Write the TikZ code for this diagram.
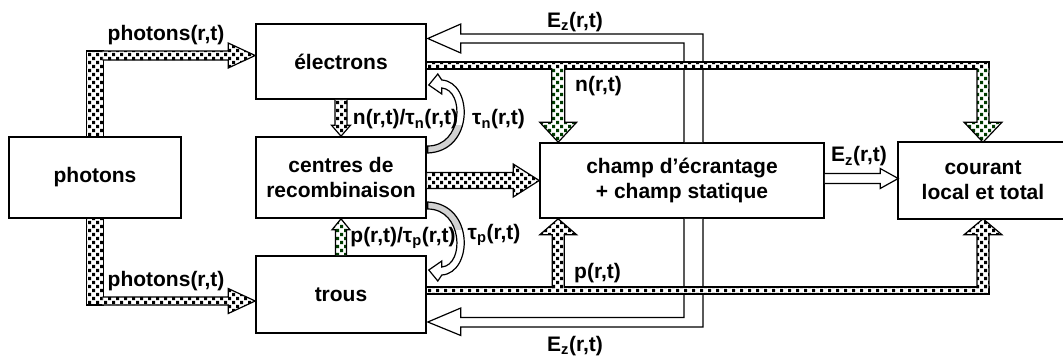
\documentclass[tikz,border=0pt]{standalone}
\usepackage{fontspec}
\setmainfont{Liberation Sans}
\usetikzlibrary{calc,patterns}

\pgfdeclarepatternformonly{dotgrid}{\pgfqpoint{-1pt}{-1pt}}{\pgfqpoint{9pt}{9pt}}{\pgfqpoint{8pt}{8pt}}{%
  \pgfpathrectangle{\pgfqpoint{0pt}{0pt}}{\pgfqpoint{3.2pt}{3.2pt}}%
  \pgfpathrectangle{\pgfqpoint{4pt}{4pt}}{\pgfqpoint{3.2pt}{3.2pt}}%
  \pgfusepath{fill}}

\definecolor{dotgreen}{RGB}{0,60,0}

\tikzset{
  box/.style={draw, line width=1.6pt, align=center, inner sep=0pt},
  lbl/.style={inner sep=0pt},
  dotfill/.style={pattern=dotgrid, pattern color=black},
  greenfill/.style={pattern=dotgrid, pattern color=dotgreen},
  hollow/.style={},
  band/.style={preaction={fill=white}, dotfill},
  arrowline/.style={line width=1.2pt, line join=miter},
  tauloop/.pic={
    \def\looppath{(1,-24.5) .. controls (48,-26.5) and (46,-95.5) .. (15,-97.5) -- (11,-103.5) -- (2,-92.5) -- (15,-83.5) -- (15,-89.5) .. controls (38,-87.5) and (36,-31.5) .. (1,-31.5) -- cycle}
    \fill[white] \looppath;
    \begin{scope}
      \clip (0,-52) rectangle (60,-20);
      \fill[gray!35] \looppath;
    \end{scope}
    \draw[arrowline] \looppath;
  }
}

% block arrow: #2 from, #3 to, #4 shaft half width, #5 head half width, #6 head length
\newcommand{\blockarrow}[6][dotfill]{%
  \path[preaction={fill=white}, #1] ($(#2)!#4pt!90:(#3)$) -- ($(#3)!#6pt!(#2)!#4pt!90:(#3)$)
    -- ($(#3)!#6pt!(#2)!#5pt!90:(#3)$) -- (#3) -- ($(#3)!#6pt!(#2)!#5pt!-90:(#3)$)
    -- ($(#3)!#6pt!(#2)!#4pt!-90:(#3)$) -- ($(#2)!#4pt!-90:(#3)$) -- cycle;
  \draw[arrowline] ($(#2)!#4pt!90:(#3)$) -- ($(#3)!#6pt!(#2)!#4pt!90:(#3)$)
    -- ($(#3)!#6pt!(#2)!#5pt!90:(#3)$) -- (#3) -- ($(#3)!#6pt!(#2)!#5pt!-90:(#3)$)
    -- ($(#3)!#6pt!(#2)!#4pt!-90:(#3)$) -- ($(#2)!#4pt!-90:(#3)$);}

\begin{document}
\begin{tikzpicture}[x=1pt, y=-1pt, every node/.style={font=\bfseries\fontsize{21}{25}\selectfont}]
\useasboundingbox (0,0) rectangle (1063,360);

% boxes
\node[box, minimum width=172pt, minimum height=81pt] (ph) at (95,177.5) {photons};
\node[box, minimum width=170pt, minimum height=75pt] (el) at (341,61.5) {électrons};
\node[box, minimum width=170pt, minimum height=81pt] (rc) at (341,177.5) {centres de\\recombinaison};
\node[box, minimum width=170pt, minimum height=77pt] (tr) at (341,294.5) {trous};
\node[box, minimum width=284pt, minimum height=75pt] (ch) at (682,180.5) {champ d’écrantage\\+ champ statique};
\node[box, draw=none, minimum width=168pt, minimum height=75pt] (co) at (983,180.5) {courant\\local et total};
\draw[line width=1.6pt] ($(co.north east)+(10,0)$) -- (co.north west) -- (co.south west) -- ($(co.south east)+(10,0)$);

% E_z feedback
\coordinate (ezt) at ($(el.east)+(1,-23)$);
\coordinate (ezb) at ($(tr.east)+(1,27.5)$);
\draw[arrowline, fill=white] ($(ch.north)+(2,0)$) |- ($(ezt)+(33,4.5)$) -- ++(0,10) -- (ezt) -- ++(33,-14.5) -- ++(0,10) -| ($(ch.north)+(21,0)$);
\draw[arrowline, fill=white] ($(ch.south)+(2,0)$) |- ($(ezb)+(33,-4.5)$) -- ++(0,-9.5) -- (ezb) -- ++(33,13.5) -- ++(0,-8.5) -| ($(ch.south)+(21,0)$);
\coordinate (ezs) at ($(ch.east)+(0,-2)$);
\coordinate (eze) at ($(co.west)+(0,-2)$);
\blockarrow[hollow]{ezs}{eze}{5}{10}{18}

% photons
\coordinate (pu) at ($(ph.north |- el.west)+(0,-6)$);
\coordinate (pu2) at ($(pu)+(7.5,0)$);
\coordinate (pue) at ($(el.west)+(0,-6)$);
\draw[arrowline, band] ($(ph.north)+(-8.5,0)$) rectangle ($(pu)+(8.5,-4.5)$);
\blockarrow{pu2}{pue}{4.5}{12.5}{27}
\coordinate (pl) at ($(ph.south |- tr.west)+(0,6.5)$);
\coordinate (pl2) at ($(pl)+(7.5,0)$);
\coordinate (ple) at ($(tr.west)+(0,6.5)$);
\draw[arrowline, band] ($(ph.south)+(-8.5,0)$) rectangle ($(pl)+(8.5,4)$);
\blockarrow{pl2}{ple}{4}{12.5}{27}

% recombination
\blockarrow{el.south}{rc.north}{6}{9.5}{11}
\blockarrow[greenfill]{tr.north}{rc.south}{5.5}{9}{11}
\coordinate (rcs) at (rc.east |- ch.west);
\blockarrow{rcs}{ch.west}{8}{16.5}{26}

% electrons band
\coordinate (eb) at ($(el.east)+(0,4)$);
\draw[arrowline, band] ($(eb)+(0,-3.5)$) rectangle ($(co.north |- eb)+(6,3.5)$);
\coordinate (nch) at ($(ch.north west)+(19,0)$);
\coordinate (nst) at ($(nch |- eb)+(0,2.5)$);
\blockarrow[greenfill]{nst}{nch}{6.5}{18.5}{20}
\coordinate (cst) at ($(co.north |- eb)+(0,2.5)$);
\blockarrow[greenfill]{cst}{co.north}{6}{19}{20}

% holes band
\coordinate (tb) at ($(tr.east)+(0,-4)$);
\draw[arrowline, band] ($(tb)+(0,-3.5)$) rectangle ($(co.south |- tb)+(6,3.5)$);
\coordinate (pch) at ($(ch.south west)+(19,0)$);
\coordinate (pst) at ($(pch |- tb)+(0,-2.5)$);
\blockarrow{pst}{pch}{6}{18.5}{16}
\coordinate (cpst) at ($(co.south |- tb)+(0,-2.5)$);
\blockarrow{cpst}{co.south}{6}{19}{16}

% lifetimes
\pic at (rc.east) {tauloop};
\pic[yscale=-1] at (rc.east) {tauloop};

% labels
\node[lbl] (lph1) at (166,35) {photons(r,t)};
\node[lbl] (lph2) at (166,281.5) {photons(r,t)};
\node[lbl] (lez1) at (575,22) {E\textsubscript{z}(r,t)};
\node[lbl] (lez2) at (575,346) {E\textsubscript{z}(r,t)};
\node[lbl] (lez3) at (859,156.5) {E\textsubscript{z}(r,t)};
\node[lbl] (ln) at (598.5,86.5) {n(r,t)};
\node[lbl] (lp) at (597.5,273) {p(r,t)};
\node[lbl] (lnt) at (405.5,119.5) {n(r,t)/τ\textsubscript{n}(r,t)};
\node[lbl] (lpt) at (403,238) {p(r,t)/τ\textsubscript{p}(r,t)};
\node[lbl] (ltn) at (498.5,119.5) {τ\textsubscript{n}(r,t)};
\node[lbl] (ltp) at (494,235) {τ\textsubscript{p}(r,t)};
\end{tikzpicture}
\end{document}
